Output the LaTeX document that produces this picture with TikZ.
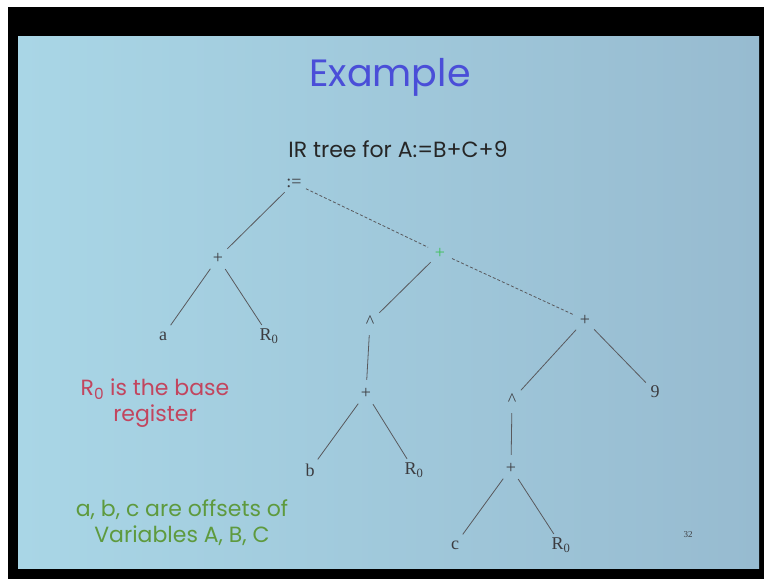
\documentclass[tikz,border=0pt]{standalone}
\usepackage{fontspec}
\setmainfont{Liberation Serif}
\newfontfamily\comic{Poppins}
\definecolor{slideL}{HTML}{A9D6E6}
\definecolor{slideR}{HTML}{97BBD0}
\definecolor{titleblue}{HTML}{4A4ED8}
\definecolor{redtxt}{HTML}{C2455E}
\definecolor{greentxt}{HTML}{5E9A3E}
\definecolor{treeink}{HTML}{3C3C40}
\definecolor{laser}{HTML}{3FBF5A}
\tikzset{
  tn/.style={circle, minimum size=26pt, inner sep=0pt, text=treeink, font=\fontsize{18}{18}\selectfont},
  edge/.style={draw=treeink!85, line width=0.8pt},
  dedge/.style={edge, densely dashed},
  note/.style={font=\comic\fontsize{22}{26}\selectfont, align=center, inner sep=0pt}
}
\begin{document}
\begin{tikzpicture}[x=1pt,y=-1pt]
\useasboundingbox (0,0) rectangle (764,579);
% photo frame
\fill[white] (0,0) rectangle (764,579);
\fill[black] (8,7) rectangle (764,579);
\shade[left color=slideL, right color=slideR] (18,36) rectangle (759,568);
% titles
\node[font=\comic\fontsize{38}{38}\selectfont, text=titleblue] (title) at (390,77) {Example};
\node[font=\comic\fontsize{22}{22}\selectfont, text=black!85] (sub) at (398,149) {IR tree for A:=B+C+9};
% tree
\node[tn] (asg) at (294,183) {:=};
\node[tn] (p1) at (218,258) {+};
\node[tn] (a) at (163,336) {a};
\node[tn] (r1) at (269,336) {R\textsubscript{0}};
\node[tn, text=laser] (p2) at (440,253) {+};
\node[tn] (d1) at (370,322) {\^{}};
\node[tn] (p3) at (366,393) {+};
\node[tn] (b) at (310,470) {b};
\node[tn] (r2) at (414,470) {R\textsubscript{0}};
\node[tn] (p4) at (585,320) {+};
\node[tn] (d2) at (512,400) {\^{}};
\node[tn] (nine) at (655,392) {9};
\node[tn] (p5) at (511,468) {+};
\node[tn] (c) at (455,545) {c};
\node[tn] (r3) at (561,545) {R\textsubscript{0}};
\draw[edge] (asg) -- (p1);
\draw[dedge] (asg) -- (p2);
\draw[edge] (p1) -- (a);
\draw[edge] (p1) -- (r1);
\draw[edge] (p2) -- (d1);
\draw[dedge] (p2) -- (p4);
\draw[edge] (d1) -- (p3);
\draw[edge] (p3) -- (b);
\draw[edge] (p3) -- (r2);
\draw[edge] (p4) -- (d2);
\draw[edge] (p4) -- (nine);
\draw[edge] (d2) -- (p5);
\draw[edge] (p5) -- (c);
\draw[edge] (p5) -- (r3);
% notes
\node[note, text=redtxt] (n1) at (155,403) {R\textsubscript{0} is the base\\register};
\node[note, text=greentxt] (n2) at (182,523) {a, b, c are offsets of\\Variables A, B, C};
\node[font=\fontsize{9}{9}\selectfont, text=treeink] (pg) at (688,535) {32};
\end{tikzpicture}
\end{document}
